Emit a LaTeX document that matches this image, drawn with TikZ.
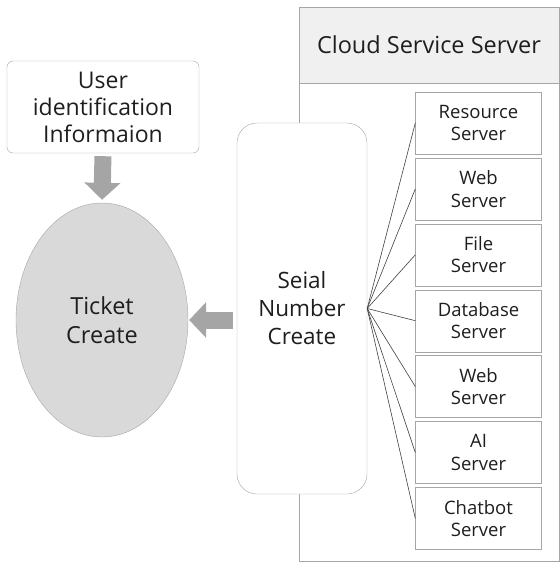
\documentclass[tikz,border=0pt]{standalone}
\usepackage{fontspec}
\setmainfont{Open Sans}
\usetikzlibrary{positioning,arrows.meta,shapes.geometric}
\definecolor{boxline}{HTML}{A6A6A6}
\definecolor{arrowgray}{HTML}{A5A5A5}
\definecolor{ticketfill}{HTML}{D9D9D9}
\definecolor{headfill}{HTML}{F0F0F0}
\definecolor{inkgray}{HTML}{1E1E1E}

\begin{document}
\begin{tikzpicture}[
   x=1pt, y=-1pt,
   every node/.style={text=inkgray, align=center, inner sep=0pt},
   userbox/.style={draw=boxline, rounded corners=6pt, minimum width=192pt,
                   minimum height=92pt, font=\fontsize{23}{27}\selectfont},
   ticket/.style={ellipse, draw=boxline, fill=ticketfill, minimum width=172pt,
                  minimum height=234pt, font=\fontsize{23.5}{28.5}\selectfont},
   serial/.style={draw=boxline, fill=white, rounded corners=20pt,
                  minimum width=130pt, minimum height=371pt,
                  font=\fontsize{22.5}{28}\selectfont},
   cloud/.style={draw=boxline, minimum width=260pt, minimum height=554pt},
   cloudhead/.style={draw=boxline, fill=headfill, minimum width=260pt,
                     minimum height=76pt, font=\fontsize{23.5}{28}\selectfont},
   srv/.style={draw=boxline, minimum width=126pt, minimum height=62pt,
               font=\fontsize{18.5}{22.5}\selectfont},
   blockarrow/.style={draw=arrowgray, line width=17pt,
                      -{Triangle[length=17pt, width=35pt]}},
   link/.style={draw=inkgray!85, line width=0.6pt}]

\useasboundingbox (0,0) rectangle (560,563);

% left side
\node[userbox] (user) at (103,107) {User\\identification\\Informaion};
\node[ticket] (ticket) at (102,320) {Ticket\\Create};

% cloud server frame
\node[cloud] (cloud) at (429,284) {};
\node[cloudhead, anchor=north] (head) at (cloud.north) {Cloud Service Server};

\node[serial] (serial) at (302,308.5) {Seial\\Number\\Create};

% servers
\node[srv] (res) at (478.5,123) {Resource\\Server};
\node[srv, below=3.5pt of res] (web) {Web\\Server};
\node[srv, below=3.5pt of web] (file) {File\\Server};
\node[srv, below=3.5pt of file] (db) {Database\\Server};
\node[srv, below=3.5pt of db] (web2) {Web\\Server};
\node[srv, below=3.5pt of web2] (ai) {AI\\Server};
\node[srv, below=3.5pt of ai] (chat) {Chatbot\\Server};

\draw[link] (serial.east) -- (res.west);
\draw[link] (serial.east) -- (web.west);
\draw[link] (serial.east) -- (file.west);
\draw[link] (serial.east) -- (db.west);
\draw[link] (serial.east) -- (web2.west);
\draw[link] (serial.east) -- (ai.west);
\draw[link] (serial.east) -- (chat.west);

% block arrows
\draw[blockarrow, shorten <=3pt, shorten >=3pt] (user.south) -- (ticket.north);
\draw[blockarrow, shorten <=4pt, shorten >=1pt]
   (serial.west |- ticket.east) -- (ticket.east);

\end{tikzpicture}
\end{document}
